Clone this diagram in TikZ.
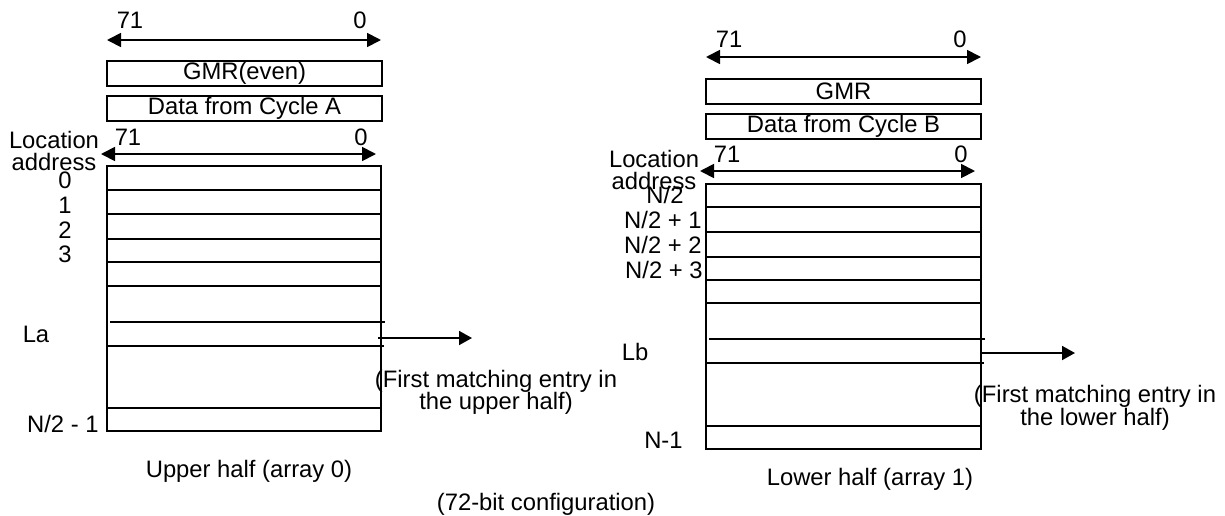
\documentclass[tikz,border=0pt]{standalone}
\usepackage{fontspec}
\setmainfont{Liberation Sans}
\usetikzlibrary{arrows.meta}
\begin{document}
\begin{tikzpicture}[x=0.5pt,y=-0.5pt,
  txt/.style={font=\fontsize{11.9}{12}\selectfont, inner sep=0pt, anchor=base},
  rtxt/.style={txt, anchor=base east},
  regbox/.style={draw, line width=1pt, minimum width=137.5pt, minimum height=12.5pt, inner sep=0pt, font=\fontsize{11.9}{12}\selectfont},
  tblbox/.style={draw, line width=1pt, inner sep=0pt, minimum height=132.5pt},
  rowline/.style={line width=1pt},
  dimarrow/.style={line width=0.9pt, {Triangle[length=7pt,width=7pt]}-{Triangle[length=7pt,width=7pt]}},
  ptr/.style={line width=0.9pt, -{Triangle[length=6.5pt,width=7pt]}}
]
\useasboundingbox (0,0) rectangle (1225,515);

% ---------------- left (upper half) ----------------
\coordinate (a1l) at (107,40);  \coordinate (a1r) at (381,40);
\draw[dimarrow] (a1l) -- (a1r);
\node[txt] (a1h) at (130,28) {71};
\node[txt] (a1z) at (360,28) {0};

\node[regbox] (gmrA) at (244.5,73.5) {GMR(even)};
\node[regbox] (datA) at (244.5,108.5) {Data from Cycle A};

\coordinate (a2l) at (101,154); \coordinate (a2r) at (376,154);
\draw[dimarrow] (a2l) -- (a2r);
\node[txt] (a2h) at (128,145) {71};
\node[txt] (a2z) at (361,145) {0};

\node[txt] (locA) at (54,148) {Location};
\node[txt] (adrA) at (54,170) {address};

\node[tblbox, minimum width=137pt] (tabA) at (244,298.5) {};
\foreach \yy in {190,214,239,262,286,408}
  \draw[rowline] (107,\yy) -- (381,\yy);
\draw[rowline] (110,322) -- (385,322);
\draw[rowline] (107,346) -- (384,346);

\node[txt] (r0) at (65,188) {0};
\node[txt] (r1) at (65,213) {1};
\node[txt] (r2) at (65,238) {2};
\node[txt] (r3) at (65,262) {3};
\node[txt] (la) at (36,342) {La};
\node[rtxt] (rlastA) at (99,432) {N/2 - 1};

\coordinate (pAs) at (378,338); \coordinate (pAe) at (472,338);
\draw[ptr] (pAs) -- (pAe);
\node[txt] (fmA1) at (496,387) {(First matching entry in};
\node[txt] (fmA2) at (496,409) {the upper half)};

\node[txt] (capA) at (249,477) {Upper half (array 0)};

% ---------------- right (lower half) ----------------
\coordinate (b1l) at (706,57);  \coordinate (b1r) at (981,57);
\draw[dimarrow] (b1l) -- (b1r);
\node[txt] (b1h) at (729,47) {71};
\node[txt] (b1z) at (960,47) {0};

\node[regbox] (gmrB) at (843.5,91.5) {GMR};
\node[regbox] (datB) at (843.5,126.5) {Data from Cycle B};

\coordinate (b2l) at (700,171); \coordinate (b2r) at (975,171);
\draw[dimarrow] (b2l) -- (b2r);
\node[txt] (b2h) at (727,162) {71};
\node[txt] (b2z) at (961,162) {0};

\node[txt] (locB) at (654,167) {Location};
\node[txt] (adrB) at (654,189) {address};

\node[tblbox, minimum width=137.5pt] (tabB) at (843.5,316.5) {};
\foreach \yy in {207,232,257,280,303,426}
  \draw[rowline] (706,\yy) -- (981,\yy);
\draw[rowline] (709,339) -- (985,339);
\draw[rowline] (706,363) -- (984,363);

\node[txt] (s0) at (665,203) {N/2};
\node[rtxt] (s1) at (702,228) {N/2 + 1};
\node[rtxt] (s2) at (702,253) {N/2 + 2};
\node[rtxt] (s3) at (703,278) {N/2 + 3};
\node[txt] (lb) at (635,360) {Lb};
\node[rtxt] (rlastB) at (683,448) {N-1};

\coordinate (pBs) at (981,353); \coordinate (pBe) at (1075,353);
\draw[ptr] (pBs) -- (pBe);
\node[txt] (fmB1) at (1095,402) {(First matching entry in};
\node[txt] (fmB2) at (1095,425) {the lower half)};

\node[txt] (capB) at (870,485) {Lower half (array 1)};

\node[txt] (cfg) at (546,510) {(72-bit configuration)};
\end{tikzpicture}
\end{document}
